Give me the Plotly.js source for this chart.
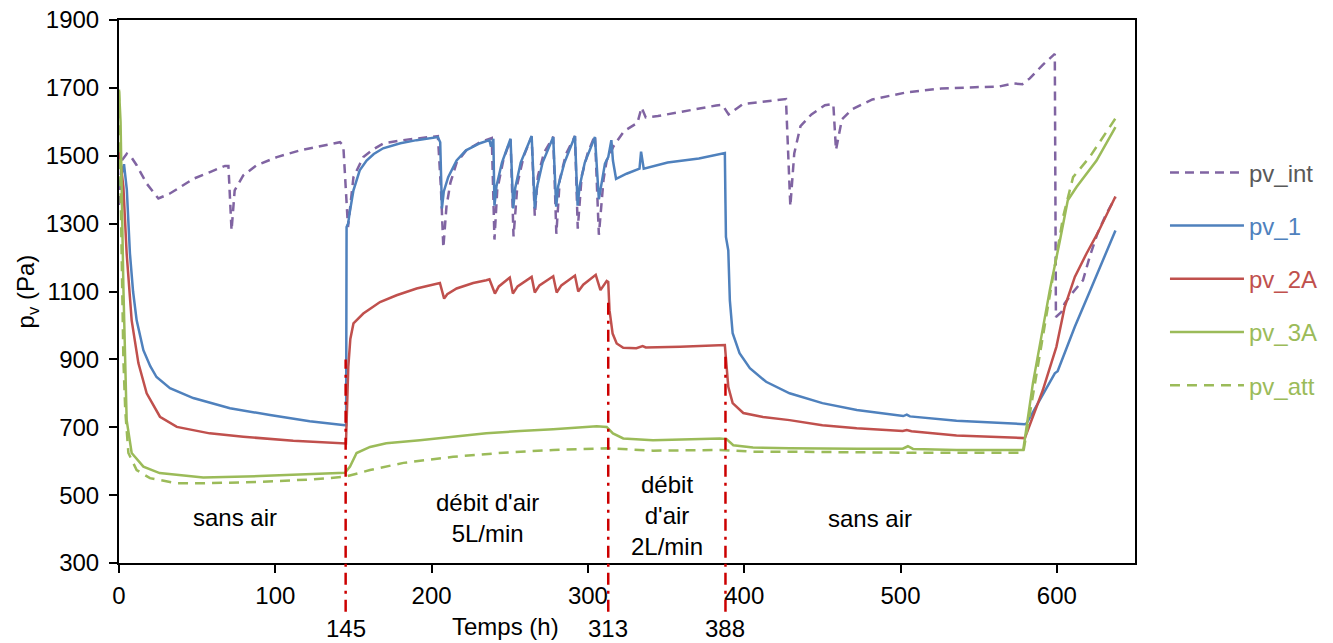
<!DOCTYPE html>
<html>
<head>
<meta charset="utf-8">
<script src="https://cdn.plot.ly/plotly-3.0.1.min.js"></script>
<style>html,body{margin:0;padding:0;background:#fff;}#chart{width:1333px;height:643px;}</style>
</head>
<body>
<div id="chart"></div>
<script>
// ---- data (time in h, vapour pressure in Pa) ----
const seriesNames = ["pv_int", "pv_1", "pv_2A", "pv_3A", "pv_att"];

const pvInt_t = [0, 1.7, 5, 8, 11.3, 17.7, 25.2, 32.3, 40, 47.5, 58.2, 67.8, 70, 72, 74, 79.5, 88, 101, 115.8, 126.5, 135, 141.4, 143.5, 146.5, 150, 156.3, 163, 169, 180, 190, 198, 204, 206, 207.5, 209.5, 212, 216, 222, 231, 237, 238.5, 240.2, 242, 246, 250.5, 252.4, 255, 259, 264, 266, 268, 272, 277.8, 279.8, 282, 286, 291.7, 293.5, 296, 300, 304.5, 307, 310, 312, 316.4, 323, 331.7, 334.3, 337, 344.8, 362, 382, 386, 390, 399, 416.8, 426.7, 429.5, 432, 436, 443, 451.6, 457, 458.7, 462.5, 469, 482, 504, 526, 547.6, 563, 572, 578, 582.7, 591, 598.7, 599.4, 603, 605, 610, 616.7, 621, 626, 631.8, 637.5];
const pvInt   = [1355, 1486, 1506, 1495, 1472, 1418, 1374, 1388, 1410, 1432, 1452, 1470, 1470, 1280, 1398, 1442, 1472, 1496, 1516, 1526, 1532, 1540, 1530, 1290, 1437, 1496, 1520, 1536, 1545, 1550, 1555, 1558, 1400, 1229, 1350, 1420, 1480, 1515, 1540, 1548, 1552, 1253, 1400, 1490, 1548, 1262, 1420, 1500, 1556, 1323, 1440, 1510, 1556, 1270, 1430, 1505, 1558, 1285, 1440, 1510, 1560, 1267, 1430, 1486, 1528, 1572, 1597, 1642, 1613, 1617, 1632, 1648, 1650, 1622, 1652, 1663, 1667, 1351, 1507, 1587, 1622, 1649, 1652, 1517, 1607, 1637, 1666, 1687, 1698, 1702, 1704, 1713, 1711, 1728, 1768, 1800, 1025, 1040, 1065, 1096, 1133, 1202, 1271, 1330, 1378];

const pv1_t = [0, 3.2, 5, 7, 9, 11.3, 15.6, 20, 24, 32.6, 47.5, 71, 96.6, 122, 144.6, 145.3, 145.6, 146.6, 147.5, 150, 154, 158.4, 163, 169, 180, 190.4, 204, 205.5, 206.6, 207.8, 210.6, 216, 222, 231, 237, 238, 239.5, 240.2, 241.5, 245, 250.5, 252.2, 253.5, 257, 264, 266, 267.3, 271, 277.8, 279.7, 281, 285, 291.7, 293.4, 294.7, 298, 304.5, 307, 310.9, 313, 315, 316, 318, 324.7, 333, 334, 335.7, 351, 371, 387.6, 388, 388.3, 389.8, 390.8, 392.6, 397, 403.6, 414, 429, 450, 472, 501.7, 504, 506, 535.8, 579.5, 580.6, 589, 598.7, 600.5, 604, 611.5, 621, 629.5, 637.5];
const pv1   = [1410, 1475, 1400, 1212, 1100, 1015, 927, 880, 848, 815, 786, 756, 736, 718, 706, 706, 1290, 1300, 1330, 1398, 1457, 1486, 1505, 1522, 1537, 1546, 1555, 1540, 1345, 1395, 1437, 1486, 1516, 1537, 1546, 1527, 1550, 1353, 1410, 1480, 1550, 1345, 1405, 1480, 1558, 1345, 1405, 1480, 1555, 1350, 1410, 1480, 1558, 1353, 1410, 1480, 1555, 1372, 1477, 1496, 1546, 1486, 1432, 1447, 1462, 1512, 1462, 1480, 1492, 1508, 1360, 1261, 1221, 1074, 977, 918, 874, 834, 800, 771, 751, 733, 737, 732, 719, 709, 711, 780, 859, 865, 907, 996, 1099, 1192, 1280];

const pv2A_t = [0, 2.8, 4.9, 8.1, 12.4, 17.7, 26.2, 37, 58, 79.5, 111.5, 144.6, 145.2, 146.7, 148, 150, 156.3, 167, 177.6, 190.4, 205.3, 208, 210, 216, 226.6, 235, 237, 240.5, 243, 250, 252, 255, 264, 266, 269, 277.8, 280, 283, 291.7, 293.8, 297, 305, 308, 312, 313, 313.8, 315.8, 318.4, 322.6, 331, 335, 337, 359, 387.6, 388.3, 389.8, 392.6, 399.4, 412, 429, 450, 472, 501.4, 504, 507, 535.8, 579.5, 591, 599.7, 605, 611.5, 619, 626, 637.5];
const pv2A   = [1521, 1408, 1212, 1015, 889, 800, 731, 701, 682, 672, 660, 650, 652, 878, 960, 1006, 1035, 1069, 1089, 1109, 1125, 1079, 1092, 1109, 1125, 1133, 1136, 1094, 1115, 1141, 1094, 1115, 1143, 1097, 1118, 1145, 1097, 1118, 1147, 1100, 1120, 1149, 1104, 1131, 1128, 1045, 976, 947, 934, 933, 939, 935, 937, 942, 907, 819, 771, 742, 730, 721, 706, 697, 689, 692, 688, 676, 668, 809, 937, 1054, 1143, 1212, 1271, 1380];

const pv3A_t = [0, 1, 2.8, 4.9, 8.1, 15.6, 26, 47.5, 53.9, 90, 122, 144.6, 147.8, 152, 160.6, 171, 192.5, 213.8, 235, 256.5, 277.8, 305.6, 312, 316, 322.6, 341.6, 363, 384.4, 388.7, 393, 405.6, 429, 472, 501.4, 504.7, 508, 535.8, 578.5, 584.7, 595.5, 602, 607, 612.6, 625.4, 637.5];
const pv3A   = [1695, 1600, 1113, 721, 624, 584, 565, 556, 552, 556, 562, 566, 584, 624, 642, 653, 662, 672, 682, 689, 694, 703, 701, 682, 667, 662, 664, 667, 665, 647, 640, 638, 637, 637, 644, 636, 633, 633, 830, 1104, 1251, 1369, 1408, 1486, 1584];

const pvAtt_t = [0, 1.5, 2.8, 4, 6, 11.3, 19.8, 37, 53.9, 90, 122, 144.6, 160.6, 182, 213.8, 246, 277.8, 312, 341.6, 384.4, 405.6, 429, 501.4, 578.5, 585, 595, 604, 610.4, 621, 637.5];
const pvAtt   = [1690, 1300, 900, 750, 624, 574, 550, 535, 535, 539, 546, 554, 574, 595, 613, 625, 633, 638, 631, 633, 628, 628, 625, 625, 800, 1080, 1320, 1437, 1496, 1610];

const phaseTimes = [145, 313, 388];
const phaseLabels = ["145", "313", "388"];
const regionText = ["sans air", "débit d'air<br>5L/min", "débit<br>d'air<br>2L/min", "sans air"];
const regionX = [74, 235.7, 350.3, 480.4];
const regionY = [433, 434, 441, 431];

// ---- styling ----
const FONT = "Liberation Sans, Arial, sans-serif";
const FS = 24;
const colors = {pv_int: "#8064A2", pv_1: "#4F81BD", pv_2A: "#C0504D", pv_3A: "#9BBB59", pv_att: "#9BBB59"};
const textColors = {pv_int: "#595959", pv_1: "#4F81BD", pv_2A: "#C0504D", pv_3A: "#9BBB59", pv_att: "#9BBB59"};

function tr(name, x, y, dash) {
  return {
    type: "scatter", mode: "lines", x: x, y: y,
    name: '<span style="color:' + textColors[name] + '">' + name + '</span>',
    legendgroup: name,
    line: {color: colors[name], width: 2.5, dash: dash},
    hoverinfo: "x+y"
  };
}

const data = [
  tr("pv_int", pvInt_t, pvInt, "9px,6px"),
  tr("pv_1", pv1_t, pv1, "solid"),
  tr("pv_2A", pv2A_t, pv2A, "solid"),
  tr("pv_3A", pv3A_t, pv3A, "solid"),
  tr("pv_att", pvAtt_t, pvAtt, "10px,7px")
];

const lineTops = [900, 1075, 920];
const shapes = phaseTimes.map((t, i) => ({
  type: "line", xref: "x", yref: "paper",
  x0: t, x1: t, y0: -0.09, y1: (lineTops[i] - 300) / 1600,
  line: {color: "#CC0000", width: 2.5, dash: "12px,6px,3px,6px"}
}));

const annotations = [];
regionText.forEach((txt, i) => annotations.push({
  xref: "x", yref: "y", x: regionX[i], y: regionY[i], text: txt,
  showarrow: false, font: {family: FONT, size: FS, color: "#000"},
  xanchor: "center", yanchor: "middle", align: "center"
}));
phaseTimes.forEach((t, i) => annotations.push({
  xref: "x", yref: "paper", x: t, y: -0.121, text: phaseLabels[i],
  showarrow: false, font: {family: FONT, size: FS, color: "#000"},
  xanchor: "center", yanchor: "middle"
}));
annotations.push({
  xref: "paper", yref: "paper", x: 0.38, y: -0.117, text: "Temps (h)",
  showarrow: false, font: {family: FONT, size: FS, color: "#000"},
  xanchor: "center", yanchor: "middle"
});

const layout = {
  width: 1333, height: 643,
  margin: {l: 119, r: 198, t: 20, b: 80, pad: 0, autoexpand: false},
  paper_bgcolor: "#fff", plot_bgcolor: "#fff",
  font: {family: FONT, size: FS, color: "#000"},
  showlegend: true,
  legend: {
    x: 1.0295, y: 0.76, xanchor: "left", yanchor: "top",
    traceorder: "grouped", tracegroupgap: 19,
    font: {family: FONT, size: FS},
    bgcolor: "rgba(0,0,0,0)", itemwidth: 74
  },
  xaxis: {
    range: [0, 650], tickmode: "linear", tick0: 0, dtick: 100,
    showgrid: false, zeroline: false,
    showline: true, linecolor: "#000", linewidth: 2, mirror: true,
    ticks: "outside", ticklen: 8, tickwidth: 2, tickcolor: "#000",
    tickfont: {family: FONT, size: FS, color: "#000"},
    ticklabelstandoff: 2
  },
  yaxis: {
    range: [300, 1900], tickmode: "linear", tick0: 300, dtick: 200,
    showgrid: false, zeroline: false,
    showline: true, linecolor: "#000", linewidth: 2, mirror: true,
    ticks: "outside", ticklen: 8, tickwidth: 2, tickcolor: "#000",
    tickfont: {family: FONT, size: FS, color: "#000"},
    ticklabelstandoff: 5,
    title: {text: "p<sub>v</sub> (Pa)", font: {family: FONT, size: FS, color: "#000"}, standoff: 4}
  },
  shapes: shapes,
  annotations: annotations
};

Plotly.newPlot("chart", data, layout, {displayModeBar: false, responsive: false});
</script>
</body>
</html>
